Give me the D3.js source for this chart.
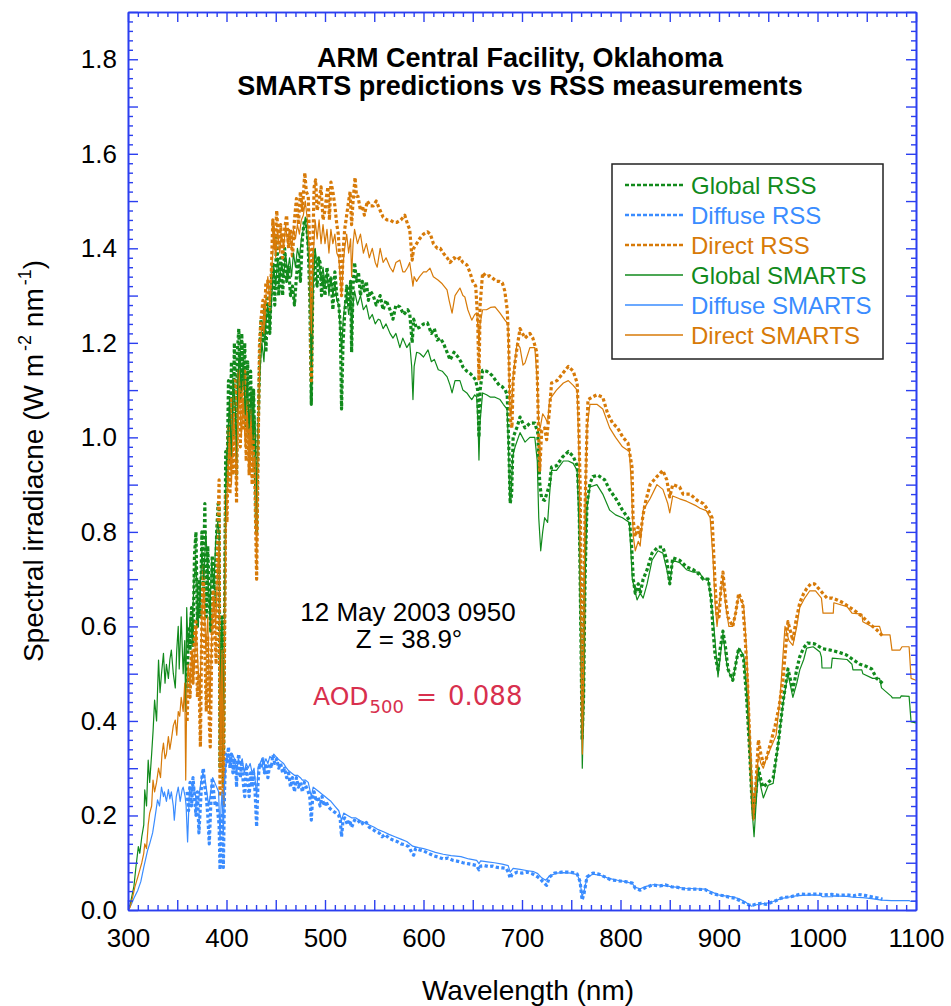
<!DOCTYPE html>
<html>
<head>
<meta charset="utf-8">
<script src="https://cdn.jsdelivr.net/npm/d3@7"></script>
<style>
  body { margin: 0; background: #fff; }
  svg { display: block; font-family: "Liberation Sans", Arial, Helvetica, sans-serif; }
</style>
</head>
<body>
<svg id="chart" width="951" height="1006"></svg>
<script>
// ---- Spectral irradiance, W m-2 nm-1, as [wavelength nm, value] ----

// RSS measurements (360 - 1066 nm)
const globalRss = [
  [360,0.47],[361.5,0.60],[363,0.55],[364.5,0.64],[366,0.56],[367.5,0.75],[369,0.80],[370.5,0.60],[372,0.70],[373.5,0.62],
  [375,0.80],[376.5,0.68],[378,0.86],[379.5,0.62],[381,0.77],[382.5,0.66],[384,0.59],[385.5,0.75],[387,0.70],[388.5,0.64],
  [390,0.80],[391.5,0.86],[392.5,0.85],[393.4,0.30],[394.5,0.55],[395.5,0.62],[396.8,0.27],[398,0.62],[399.2,0.97],
  [400.5,0.90],[402,1.12],[403.5,0.95],[405,1.16],[406.5,1.00],[408,1.20],[409.5,1.05],[410.2,0.92],[411,1.18],[412.5,1.23],
  [414,1.08],[415.5,1.22],[417,1.10],[418.5,1.20],[420,1.02],[421.5,1.16],[423,1.00],[424.5,1.14],[426,0.98],[427.5,1.10],
  [429,0.95],[430.6,0.80],[432,1.00],[433.5,1.15],[435,1.25],[437,1.20],[438.5,1.28],[440,1.18],[442,1.30],[444,1.22],
  [445.5,1.33],[447,1.37],[449,1.28],[451,1.43],[453,1.30],[455,1.38],[457,1.30],[459,1.40],[461,1.33],[463,1.36],
  [465,1.30],[467,1.32],[469,1.28],[471,1.34],[473,1.38],[475,1.33],[477,1.42],[479,1.46],[481,1.46],[483,1.40],
  [484.5,1.30],[486.1,1.07],[487.5,1.30],[489,1.40],[490.5,1.34],[492,1.32],[493.5,1.38],[495,1.37],[496.5,1.30],[498,1.34],
  [500,1.30],[502,1.36],[504,1.32],[506,1.34],[508,1.27],[510,1.35],[512,1.30],[514,1.28],[515.5,1.24],[516.8,1.06],
  [518.3,1.20],[520,1.26],[522,1.32],[524,1.28],[526,1.33],[527,1.18],[528.5,1.32],[530,1.37],[532,1.33],[534,1.35],
  [536,1.30],[538,1.33],[540,1.31],[542,1.33],[544,1.29],[546,1.31],[549,1.30],[552,1.28],[556,1.30],[559,1.27],
  [562,1.29],[566,1.27],[569,1.25],[572,1.28],[576,1.276],[580,1.26],[584,1.27],[586,1.263],[588.5,1.20],[590,1.25],
  [593,1.23],[596,1.233],[600,1.24],[604,1.242],[608,1.22],[611,1.23],[614,1.206],[617,1.21],[620,1.2],[624,1.18],
  [627,1.164],[631,1.18],[635,1.17],[638,1.16],[640,1.149],[644,1.14],[647,1.136],[650,1.13],[653,1.121],[655,1.10],
  [656.3,1.0],[657.5,1.10],[660,1.142],[664,1.14],[667,1.136],[670,1.13],[673,1.121],[677,1.11],[680,1.107],[683,1.10],
  [685,1.09],[686.5,0.99],[688,0.86],[689.5,0.88],[691,1.0],[695,1.022],[698,1.043],[703,1.02],[708,1.03],[713,1.03],
  [716,1.01],[718,0.903],[720,0.87],[723,0.867],[725,0.88],[728,0.90],[730,0.937],[735,0.94],[741,0.958],[747,0.97],
  [752,0.96],[756,0.94],[758,0.86],[760,0.55],[761,0.36],[762.5,0.45],[764,0.70],[766,0.86],[769,0.903],[772,0.917],
  [777,0.92],[784,0.91],[789,0.889],[796,0.868],[802,0.846],[809,0.825],[811,0.78],[813,0.70],[815,0.67],[818,0.69],
  [820,0.67],[823,0.70],[827,0.72],[832,0.755],[838,0.768],[843,0.768],[847,0.74],[850,0.69],[853,0.745],[860,0.74],
  [867,0.726],[874,0.72],[880,0.71],[884,0.70],[889,0.70],[892,0.66],[894,0.59],[896,0.54],[899,0.508],[901,0.55],
  [904,0.59],[907,0.55],[909,0.51],[914,0.486],[917,0.52],[920,0.554],[925,0.53],[928,0.45],[931,0.34],[933,0.25],
  [935,0.197],[937,0.24],[940,0.30],[943,0.27],[945,0.26],[950,0.27],[955,0.28],[960,0.35],[965,0.44],[970,0.51],
  [975,0.465],[979,0.51],[982,0.536],[986,0.555],[990,0.565],[997,0.563],[1005,0.553],[1013,0.55],[1022,0.545],[1029,0.54],
  [1036,0.53],[1043,0.52],[1050,0.515],[1055,0.51],[1060,0.49],[1066,0.48]
];

const diffuseRss = [
  [360,0.25],[361.5,0.21],[363,0.27],[364.5,0.22],[366,0.28],[367.5,0.24],[369,0.20],[370.5,0.25],[372,0.163],[373.5,0.22],
  [375,0.28],[376.5,0.30],[378,0.26],[379.5,0.24],[381,0.20],[382.5,0.14],[384,0.22],[385.5,0.28],[387,0.25],[388.5,0.22],
  [390,0.23],[391.5,0.20],[392.5,0.18],[393.4,0.085],[394.5,0.15],[395.5,0.20],[396.8,0.09],[398,0.25],[399.2,0.33],
  [400.5,0.31],[402,0.345],[403.5,0.30],[405,0.33],[406.5,0.29],[408,0.32],[409.5,0.30],[410.2,0.26],[411,0.31],[412.5,0.33],
  [414,0.28],[415.5,0.31],[417,0.27],[418.5,0.24],[420,0.30],[421.5,0.28],[423,0.24],[424.5,0.29],[426,0.26],[427.5,0.29],
  [429,0.25],[430.6,0.176],[432,0.27],[433.5,0.31],[435,0.30],[437,0.32],[438.5,0.29],[440,0.31],[442,0.28],[444,0.31],
  [445.5,0.30],[447,0.328],[449,0.31],[451,0.32],[453,0.30],[455,0.31],[457,0.29],[459,0.30],[461,0.28],[463,0.29],
  [465,0.26],[467,0.28],[469,0.25],[471,0.28],[473,0.26],[475,0.27],[477,0.25],[479,0.27],[481,0.26],[483,0.25],
  [484.5,0.24],[486.1,0.19],[487.5,0.24],[489,0.25],[491,0.23],[493,0.24],[495,0.22],[497,0.24],[499,0.22],[501,0.23],
  [503,0.22],[505,0.215],[508,0.21],[511,0.205],[514,0.20],[515.5,0.19],[516.8,0.155],[518.3,0.19],[520,0.195],[523,0.18],
  [525,0.19],[527,0.175],[530,0.19],[533,0.185],[536,0.19],[539,0.18],[542,0.185],[545,0.175],[549,0.17],[552,0.165],
  [555,0.163],[558,0.155],[561,0.16],[565,0.152],[569,0.148],[573,0.145],[577,0.14],[581,0.138],[585,0.134],[588.5,0.12],
  [590,0.116],[592,0.13],[596,0.127],[600,0.125],[605,0.12],[610,0.115],[615,0.112],[620,0.108],[625,0.11],[630,0.105],
  [635,0.103],[640,0.10],[645,0.098],[650,0.096],[654,0.094],[656.3,0.085],[658,0.093],[662,0.094],[666,0.092],[670,0.093],
  [675,0.09],[680,0.089],[684,0.088],[686.5,0.078],[688,0.067],[690,0.075],[695,0.08],[700,0.078],[705,0.08],[711,0.076],
  [716,0.07],[719,0.065],[721,0.06],[725,0.052],[728,0.07],[733,0.078],[740,0.08],[747,0.08],[752,0.079],[756,0.076],
  [759,0.06],[761,0.021],[763,0.035],[766,0.07],[772,0.078],[778,0.076],[784,0.07],[790,0.064],[797,0.062],[805,0.06],
  [812,0.057],[815,0.046],[820,0.042],[824,0.046],[832,0.053],[840,0.051],[846,0.053],[852,0.049],[858,0.048],[863,0.045],
  [870,0.044],[878,0.044],[886,0.043],[893,0.035],[899,0.032],[905,0.03],[911,0.027],[916,0.025],[921,0.02],[926,0.015],
  [930,0.011],[933,0.009],[937,0.012],[943,0.014],[948,0.012],[953,0.016],[958,0.02],[963,0.025],[968,0.027],[973,0.028],
  [978,0.031],[983,0.034],[990,0.033],[1000,0.034],[1007,0.032],[1014,0.033],[1022,0.031],[1030,0.032],[1037,0.03],[1041,0.033],
  [1048,0.031],[1055,0.028],[1060,0.026],[1066,0.023]
];

const directRss = [
  [360,0.40],[361.5,0.50],[363,0.45],[364.5,0.55],[366,0.48],[367.5,0.58],[369,0.61],[370.5,0.45],[372,0.50],[373.5,0.345],
  [375,0.62],[376.5,0.726],[378,0.55],[379.5,0.42],[381,0.58],[382.5,0.40],[383.5,0.345],[385,0.55],[386.5,0.677],[388,0.60],
  [389.5,0.52],[391,0.78],[392.5,0.91],[393.4,0.24],[394.5,0.45],[395.5,0.52],[396.8,0.22],[398,0.55],[399.2,0.88],
  [400.5,0.82],[402,1.02],[403.5,0.88],[405,1.08],[406.5,0.92],[408,1.12],[409.5,0.98],[410.2,0.86],[411,1.10],[412.5,1.14],
  [414,0.98],[415.5,1.12],[417,1.02],[418.5,1.14],[420,0.95],[421.5,1.08],[423,0.92],[424.5,1.06],[426,0.90],[427.5,1.02],
  [429,0.88],[430.6,0.70],[432,0.95],[433.5,1.20],[435,1.25],[437,1.29],[438.5,1.24],[440,1.33],[442,1.33],[444,1.27],
  [445.5,1.35],[447,1.46],[449,1.40],[451,1.48],[453,1.40],[455,1.45],[457,1.38],[459,1.44],[461,1.47],[463,1.40],
  [465,1.44],[467,1.38],[469,1.46],[471,1.505],[473,1.45],[475,1.52],[477,1.48],[479.5,1.56],[481,1.52],[483,1.51],
  [484.5,1.40],[486.1,1.12],[487.5,1.40],[489,1.53],[490.5,1.545],[492,1.48],[494,1.50],[496,1.53],[498,1.46],[500,1.48],
  [501.5,1.51],[503,1.53],[504.5,1.46],[506,1.54],[508,1.52],[510,1.49],[512,1.45],[513.5,1.43],[515,1.375],[516.8,1.30],
  [518.5,1.40],[520,1.44],[522,1.47],[524,1.50],[525.5,1.52],[527,1.45],[528.5,1.50],[530.5,1.55],[532,1.51],[533.5,1.51],
  [536,1.48],[538,1.49],[540,1.47],[543,1.50],[546,1.49],[549,1.49],[552,1.50],[556,1.48],[559,1.466],[563,1.46],
  [566,1.46],[570,1.455],[573,1.455],[577,1.46],[581,1.47],[584,1.45],[586,1.44],[588.5,1.375],[590,1.40],[593,1.41],
  [596,1.42],[600,1.43],[604,1.435],[607,1.43],[610,1.41],[614,1.40],[617,1.40],[620,1.39],[624,1.38],[627,1.37],
  [631,1.38],[634,1.375],[637,1.38],[640,1.37],[644,1.365],[647,1.35],[650,1.33],[653,1.32],[655,1.25],[656.3,1.12],
  [657.5,1.28],[660,1.348],[664,1.34],[667,1.342],[670,1.337],[674,1.33],[677,1.33],[680,1.327],[682.5,1.31],[685,1.27],
  [686.5,1.20],[688,1.04],[689.8,1.02],[691,1.12],[693,1.16],[695,1.19],[698,1.23],[703,1.21],[708,1.22],[711,1.21],
  [715,1.18],[716.5,1.04],[718,0.93],[720,1.015],[723,1.02],[725,0.995],[728,1.06],[730,1.115],[735.5,1.12],[741.6,1.136],
  [747,1.15],[752,1.14],[756,1.115],[757.5,1.04],[759,0.90],[760.5,0.60],[761.3,0.38],[762.5,0.55],[764,0.85],[766,1.02],
  [767,1.08],[771,1.085],[776,1.09],[782,1.085],[787,1.05],[792,1.03],[797,1.02],[802.5,1.0],[807.6,0.988],[811.7,0.937],
  [812.7,0.83],[814.7,0.79],[817.8,0.81],[820,0.79],[822.5,0.83],[825,0.86],[830,0.90],[837,0.917],[843,0.93],[847,0.91],
  [850,0.874],[853,0.90],[860,0.895],[863.5,0.88],[870.6,0.88],[877.7,0.867],[884,0.86],[889,0.846],[893,0.83],[894.5,0.76],
  [896,0.69],[898,0.62],[900,0.62],[902,0.68],[904,0.715],[906.5,0.66],[909,0.62],[914,0.60],[917,0.63],[920,0.67],
  [924,0.65],[926.5,0.58],[929,0.48],[931,0.37],[933,0.27],[935,0.19],[937,0.25],[940,0.36],[942.5,0.33],[945,0.31],
  [948,0.32],[952,0.35],[957,0.39],[961,0.43],[965,0.49],[970,0.61],[975,0.57],[978,0.61],[982,0.65],[986,0.67],
  [989,0.68],[993,0.69],[997,0.69],[1002.5,0.677],[1009.6,0.66],[1015,0.66],[1020,0.656],[1026,0.65],[1033,0.64],[1040,0.63],
  [1046,0.62],[1053,0.605],[1060,0.593],[1066,0.58]
];

// SMARTS model predictions (300 - 1100 nm)
const globalSmarts = [
  [300,0],[302,0.01],[304,0.03],[306,0.05],[308,0.09],[310.5,0.134],[312,0.12],[314,0.155],[316,0.18],[317,0.254],
  [318.8,0.22],[320.5,0.317],[322,0.27],[324,0.33],[325.5,0.38],[327,0.444],[329,0.40],[331,0.529],[332.5,0.46],[334,0.50],
  [336,0.543],[337.6,0.48],[339,0.52],[341,0.49],[342.5,0.53],[344,0.55],[346,0.50],[348,0.47],[349.5,0.55],[351,0.60],
  [352,0.51],[354,0.62],[356,0.50],[357.6,0.57],[358.6,0.42],[359.6,0.64],[361,0.55],[363,0.62],[365,0.58],[367,0.70],
  [369,0.74],[371,0.62],[373,0.66],[375,0.76],[377,0.70],[379,0.80],[381,0.72],[383,0.62],[385,0.74],[387,0.68],
  [389,0.78],[391,0.82],[392.5,0.80],[393.4,0.36],[394.5,0.58],[395.5,0.62],[396.8,0.33],[398,0.65],[399.5,0.92],[401,0.98],
  [403,1.08],[405,0.96],[407,1.12],[409,1.06],[410.2,0.95],[411.5,1.12],[413,1.18],[415,1.10],[417,1.16],[419,1.05],
  [421,1.12],[423,1.02],[425,1.10],[427,1.00],[429,1.04],[430.6,0.82],[432,1.02],[434,1.14],[436,1.20],[438,1.16],
  [440,1.24],[442,1.28],[444,1.22],[446,1.30],[448,1.36],[450,1.32],[452,1.38],[454,1.33],[456,1.37],[458,1.34],
  [460,1.39],[462,1.35],[464,1.38],[466,1.34],[468,1.39],[470,1.36],[472,1.40],[474,1.38],[476,1.42],[478,1.44],
  [480,1.466],[482,1.42],[484,1.36],[486.1,1.15],[488,1.32],[490,1.40],[492,1.36],[494,1.38],[496,1.33],[498,1.36],
  [500,1.32],[502,1.35],[504,1.30],[506,1.34],[508,1.30],[510,1.33],[512,1.29],[514,1.28],[516.8,1.18],[518.5,1.25],
  [520,1.28],[522,1.30],[524,1.26],[526,1.29],[527,1.21],[528.5,1.28],[530,1.31],[533,1.28],[536,1.30],[539,1.27],
  [542,1.28],[545,1.25],[548,1.26],[551,1.24],[554,1.25],[556,1.248],[559,1.23],[562,1.24],[566,1.22],[569,1.21],
  [572,1.22],[576,1.19],[579,1.21],[583,1.19],[586,1.20],[588,1.15],[589.3,1.08],[590.5,1.15],[593,1.18],[596,1.178],
  [600,1.17],[604.6,1.185],[608,1.16],[611,1.165],[615,1.143],[619,1.14],[624,1.128],[627,1.11],[629,1.094],[632,1.12],
  [637,1.12],[640,1.10],[644,1.094],[647,1.085],[649,1.08],[652,1.09],[654,1.085],[655.5,1.02],[656.3,0.952],[657.3,1.03],
  [660,1.094],[664,1.09],[668,1.085],[672.6,1.085],[677.7,1.08],[681,1.07],[684.8,1.06],[686.3,0.98],[687.5,0.87],[689,0.88],
  [690.5,0.96],[693,0.98],[698,1.01],[703,0.99],[708,1.0],[713,1.0],[715.5,0.95],[717,0.83],[719,0.76],[721,0.80],
  [723,0.83],[726,0.82],[728,0.88],[730,0.93],[735,0.93],[742,0.95],[747,0.95],[752,0.945],[756,0.93],[758,0.80],
  [760,0.50],[761.2,0.30],[762.5,0.42],[764,0.70],[766,0.85],[769,0.895],[776,0.90],[782,0.88],[789,0.846],[795,0.836],
  [802,0.83],[809,0.82],[812,0.70],[816.8,0.656],[820,0.67],[823,0.66],[827,0.69],[832,0.74],[838,0.76],[843,0.755],
  [847,0.72],[850,0.69],[853,0.74],[860,0.735],[867,0.72],[874,0.715],[880,0.715],[884,0.70],[889,0.70],[894,0.62],
  [899,0.493],[901.5,0.54],[904,0.586],[906.5,0.54],[909,0.508],[914,0.486],[917,0.52],[920,0.554],[925,0.54],[928,0.46],
  [931.5,0.34],[934,0.20],[935.6,0.155],[937.5,0.22],[940,0.296],[942.5,0.26],[945,0.237],[950,0.264],[955,0.268],[960,0.35],
  [965,0.437],[970,0.50],[975,0.45],[979,0.48],[982,0.508],[986,0.53],[989,0.554],[995.6,0.557],[1002.5,0.546],[1004,0.535],
  [1004.6,0.512],[1014,0.512],[1015,0.533],[1030,0.53],[1035,0.52],[1036,0.508],[1045,0.508],[1046,0.50],[1056,0.49],[1063,0.49],
  [1065,0.47],[1075,0.452],[1076,0.449],[1084,0.449],[1085,0.453],[1093,0.452],[1095,0.398],[1100,0.396]
];

const diffuseSmarts = [
  [300,0],[303,0.01],[306,0.025],[310,0.042],[313,0.06],[316,0.09],[320,0.127],[322,0.14],[325,0.163],[327,0.19],
  [330,0.233],[332,0.22],[334,0.26],[336,0.24],[337,0.25],[339,0.23],[341,0.255],[342.5,0.235],[344,0.25],[346,0.22],
  [347,0.19],[349,0.24],[351,0.26],[353,0.23],[355,0.255],[356,0.26],[358,0.24],[359,0.22],[360.5,0.144],[362.5,0.26],
  [364,0.24],[366,0.27],[368,0.25],[370,0.22],[372,0.24],[374,0.27],[376,0.29],[378,0.28],[380,0.25],[382,0.22],
  [384,0.25],[386,0.28],[388,0.27],[390,0.26],[392,0.25],[393.4,0.15],[394.5,0.22],[395.5,0.25],[396.8,0.16],[398,0.27],
  [400,0.32],[402,0.33],[404,0.31],[406,0.33],[408,0.32],[410.2,0.29],[412,0.32],[414,0.31],[416,0.32],[418,0.29],
  [420,0.31],[422,0.30],[424,0.31],[426,0.29],[428,0.30],[430.6,0.24],[432,0.30],[434,0.31],[436,0.32],[438,0.31],
  [440,0.32],[442,0.31],[444,0.325],[446,0.32],[448,0.33],[450,0.325],[452,0.32],[455,0.315],[458,0.31],[461,0.30],
  [463,0.295],[466,0.29],[469,0.285],[472,0.285],[475,0.28],[477,0.275],[480,0.275],[483,0.27],[486.1,0.24],[488,0.26],
  [491,0.255],[494,0.25],[497,0.245],[500,0.24],[503,0.235],[506,0.23],[510,0.22],[514,0.21],[516.8,0.19],[519,0.205],
  [523,0.20],[527,0.195],[531,0.195],[535,0.19],[540,0.185],[545,0.18],[550,0.175],[554,0.17],[560,0.165],[565,0.16],
  [571,0.155],[577,0.15],[583,0.145],[589,0.135],[595,0.132],[600,0.13],[605,0.127],[612,0.122],[620,0.118],[628,0.115],
  [638,0.113],[646,0.108],[654,0.105],[656.3,0.098],[658,0.104],[665,0.102],[672,0.1],[680,0.097],[686,0.094],[688,0.08],
  [691,0.088],[698,0.086],[706,0.083],[712,0.081],[716,0.077],[720,0.068],[724,0.063],[728,0.072],[735,0.078],[742,0.079],
  [750,0.078],[756,0.075],[759,0.06],[761,0.028],[763,0.04],[766,0.068],[772,0.076],[780,0.073],[788,0.067],[797,0.063],
  [805,0.06],[812,0.056],[815,0.048],[820,0.045],[826,0.05],[834,0.054],[842,0.052],[850,0.05],[858,0.048],[866,0.046],
  [876,0.045],[886,0.044],[893,0.038],[899,0.032],[906,0.03],[913,0.028],[920,0.024],[926,0.018],[930,0.012],[933,0.008],
  [936,0.01],[942,0.013],[948,0.014],[955,0.018],[963,0.024],[970,0.027],[978,0.03],[985,0.031],[995,0.032],[1003,0.031],
  [1005,0.028],[1015,0.028],[1016,0.03],[1030,0.029],[1036,0.027],[1046,0.026],[1055,0.024],[1065,0.021],[1075,0.02],[1085,0.02],
  [1093,0.02],[1095,0.018],[1100,0.018]
];

const directSmarts = [
  [300,0],[302,0.005],[305,0.03],[307,0.049],[310,0.07],[312,0.085],[314,0.10],[316,0.12],[317,0.14],[318.8,0.13],
  [320.5,0.18],[322,0.205],[324,0.22],[325.4,0.275],[327,0.25],[329,0.27],[331,0.30],[333,0.28],[334.5,0.33],[336,0.353],
  [337.6,0.32],[339,0.33],[341,0.367],[342.5,0.34],[344,0.36],[346,0.39],[348,0.402],[349.5,0.37],[351,0.42],[352.5,0.41],
  [354,0.45],[356,0.42],[357.6,0.48],[358.6,0.275],[359.6,0.45],[361,0.52],[363,0.48],[365,0.55],[367,0.50],[369,0.60],
  [371,0.52],[373,0.45],[375,0.62],[377,0.68],[379,0.55],[381,0.62],[383,0.42],[385,0.58],[387,0.66],[389,0.60],
  [391,0.72],[392.5,0.78],[393.4,0.30],[394.5,0.48],[395.5,0.55],[396.8,0.27],[398,0.58],[399.5,0.82],[401,0.90],[403,1.00],
  [405,0.90],[407,1.05],[409,0.98],[410.2,0.88],[411.5,1.05],[413,1.10],[415,1.00],[417,1.08],[419,0.98],[421,1.05],
  [423,0.94],[425,1.02],[427,0.93],[429,0.96],[430.6,0.72],[432,0.98],[434,1.18],[436,1.24],[438,1.22],[440,1.30],
  [442,1.34],[444,1.28],[446,1.36],[448,1.42],[450,1.38],[452,1.44],[454,1.39],[456,1.43],[458,1.40],[460,1.45],
  [462,1.41],[464,1.44],[466,1.40],[468,1.44],[470,1.42],[472,1.45],[474,1.43],[476,1.46],[478,1.47],[480,1.50],
  [482,1.46],[484,1.40],[486.1,1.22],[488,1.38],[490,1.46],[492,1.42],[494,1.46],[496,1.41],[498,1.45],[500,1.41],
  [502,1.44],[504,1.39],[506,1.44],[508,1.41],[510,1.43],[512,1.39],[514,1.38],[516.8,1.30],[518.5,1.37],[520,1.40],
  [522,1.43],[524,1.39],[526,1.42],[527,1.34],[528.5,1.41],[530,1.44],[533,1.41],[536,1.43],[539,1.39],[542,1.41],
  [545,1.38],[548,1.40],[551,1.37],[553,1.36],[556,1.40],[559,1.37],[562,1.38],[566,1.36],[569,1.35],[572,1.37],
  [576,1.375],[579,1.35],[581,1.35],[584,1.36],[586,1.37],[588,1.34],[589.3,1.32],[590.5,1.34],[593,1.33],[596,1.34],
  [600,1.35],[603,1.35],[606.6,1.358],[610,1.34],[614.7,1.333],[619,1.325],[623.9,1.312],[626,1.29],[629,1.263],[632,1.30],
  [637,1.316],[640,1.30],[642,1.297],[645,1.27],[649,1.248],[652,1.26],[654,1.263],[655.5,1.23],[656.3,1.20],[657.5,1.24],
  [660,1.27],[664,1.27],[668,1.275],[672.6,1.276],[677.7,1.263],[682.7,1.248],[685.8,1.24],[687,1.12],[688,1.05],[689.5,1.06],
  [691,1.13],[695,1.2],[698,1.19],[701,1.153],[703,1.157],[708,1.19],[713,1.19],[715.5,1.12],[717,1.03],[718.5,1.02],
  [721,1.05],[724,1.04],[726,1.03],[728,1.08],[735,1.10],[742,1.115],[747,1.12],[752,1.11],[756,1.10],[758,0.95],
  [760,0.55],[761.3,0.33],[762.5,0.50],[764,0.85],[766,1.02],[769,1.07],[776,1.07],[782,1.06],[789,1.02],[795,1.0],
  [802,0.98],[809,0.97],[811,0.90],[813,0.79],[815,0.76],[818,0.78],[820,0.77],[823,0.846],[830,0.87],[837,0.90],
  [843,0.89],[848,0.86],[850,0.84],[853,0.876],[860,0.87],[867,0.865],[877,0.855],[880.7,0.85],[887,0.845],[891,0.83],
  [894,0.74],[896,0.65],[898,0.60],[901,0.66],[904,0.70],[907,0.64],[910,0.60],[914,0.60],[917,0.63],[920,0.665],
  [925,0.645],[928,0.55],[930,0.45],[932.5,0.30],[935,0.19],[937.5,0.26],[940,0.33],[942.5,0.31],[945,0.30],[948,0.32],
  [952,0.34],[958,0.37],[962,0.45],[967,0.60],[971,0.57],[975,0.56],[979,0.60],[982,0.64],[987,0.66],[992,0.675],
  [998,0.675],[1004,0.66],[1005.6,0.628],[1016,0.628],[1016.6,0.65],[1030,0.642],[1035,0.628],[1045,0.626],[1046,0.61],[1055,0.60],
  [1063,0.60],[1065.5,0.582],[1073.6,0.582],[1075.6,0.55],[1083.8,0.55],[1085.8,0.557],[1093,0.557],[1095,0.49],[1100,0.486]
];

// Axis tick labels
const xTickLabels = [300, 400, 500, 600, 700, 800, 900, 1000, 1100];
const yTickLabels = [0.0, 0.2, 0.4, 0.6, 0.8, 1.0, 1.2, 1.4, 1.6, 1.8];

// Legend entries (also the drawing order of the lines)
const seriesNames = ["Global RSS", "Diffuse RSS", "Direct RSS", "Global SMARTS", "Diffuse SMARTS", "Direct SMARTS"];

// ---- Styles ----
const GREEN = "#118a1c", BLUE = "#3a8cff", ORANGE = "#d77a08";
const AXIS = "#2b3ff0";
const SANS = "'Liberation Sans', Arial, Helvetica, sans-serif";
const styles = {
  "Global RSS":     { color: GREEN,  dotted: true },
  "Diffuse RSS":    { color: BLUE,   dotted: true },
  "Direct RSS":     { color: ORANGE, dotted: true },
  "Global SMARTS":  { color: GREEN,  dotted: false },
  "Diffuse SMARTS": { color: BLUE,   dotted: false },
  "Direct SMARTS":  { color: ORANGE, dotted: false }
};
const seriesData = {
  "Global RSS": globalRss, "Diffuse RSS": diffuseRss, "Direct RSS": directRss,
  "Global SMARTS": globalSmarts, "Diffuse SMARTS": diffuseSmarts, "Direct SMARTS": directSmarts
};

// ---- Layout ----
const plotL = 128, plotR = 916, plotT = 12, plotB = 910;
const x = d3.scaleLinear().domain([300, 1100]).range([plotL, plotR]);
const y = d3.scaleLinear().domain([0, 1.9]).range([plotB, plotT]);

const svg = d3.select("#chart");

svg.append("defs").append("clipPath").attr("id", "plotClip")
  .append("rect").attr("x", plotL).attr("y", plotT).attr("width", plotR - plotL).attr("height", plotB - plotT);

// ---- Curves ----
const line = d3.line().x(d => x(d[0])).y(d => y(d[1]));
const curves = svg.append("g").attr("clip-path", "url(#plotClip)");

function styleLine(sel, st, legend) {
  sel.attr("fill", "none").attr("stroke", st.color).attr("stroke-linejoin", "round");
  if (st.dotted) {
    sel.attr("stroke-width", legend ? 2.6 : 3.2)
       .attr("stroke-dasharray", legend ? "4,2" : "3.3,2.4");
  } else {
    sel.attr("stroke-width", legend ? 1.3 : 1.2);
  }
  return sel;
}

// dotted measurements first, model lines on top
seriesNames.forEach(name => {
  curves.append("path").datum(seriesData[name]).attr("d", line).call(styleLine, styles[name], false);
});

// ---- Axes (ticks pointing inward on all four sides) ----
const xMajor = d3.range(300, 1101, 50);
const xMinor = d3.range(300, 1101, 10).filter(v => v % 50 !== 0);
const yMajor = d3.range(0, 20).map(i => i / 10);
const yMinor = d3.range(0, 96).filter(i => i % 5 !== 0).map(i => i / 50);

const isXLabel = v => xTickLabels.includes(v);
const isYLabel = v => yTickLabels.some(t => Math.abs(t - v) < 1e-9);

function styleAxis(g) {
  g.attr("font-family", SANS).attr("font-size", 26);
  g.selectAll(".domain").attr("stroke", AXIS).attr("stroke-width", 1.6);
  g.selectAll(".tick line").attr("stroke", AXIS).attr("stroke-width", 1.4);
  g.selectAll(".tick text").attr("fill", "#000");
}

// bottom
svg.append("g").attr("transform", `translate(0,${plotB})`)
  .call(d3.axisBottom(x).tickValues(xMinor).tickSize(-5).tickSizeOuter(0).tickFormat(""))
  .call(styleAxis);
svg.append("g").attr("transform", `translate(0,${plotB})`)
  .call(d3.axisBottom(x).tickValues(xMajor).tickSize(-10).tickSizeOuter(0).tickPadding(19)
        .tickFormat(v => isXLabel(v) ? String(v) : ""))
  .call(styleAxis);
// top
svg.append("g").attr("transform", `translate(0,${plotT})`)
  .call(d3.axisTop(x).tickValues(xMinor).tickSize(-5).tickSizeOuter(0).tickFormat(""))
  .call(styleAxis);
svg.append("g").attr("transform", `translate(0,${plotT})`)
  .call(d3.axisTop(x).tickValues(xMajor).tickSize(-10).tickSizeOuter(0).tickFormat(""))
  .call(styleAxis);
// left
svg.append("g").attr("transform", `translate(${plotL},0)`)
  .call(d3.axisLeft(y).tickValues(yMinor).tickSize(-5).tickSizeOuter(0).tickFormat(""))
  .call(styleAxis);
svg.append("g").attr("transform", `translate(${plotL},0)`)
  .call(d3.axisLeft(y).tickValues(yMajor).tickSize(-10).tickSizeOuter(0).tickPadding(11)
        .tickFormat(v => isYLabel(v) ? d3.format(".1f")(v) : ""))
  .call(styleAxis);
// right
svg.append("g").attr("transform", `translate(${plotR},0)`)
  .call(d3.axisRight(y).tickValues(yMinor).tickSize(-5).tickSizeOuter(0).tickFormat(""))
  .call(styleAxis);
svg.append("g").attr("transform", `translate(${plotR},0)`)
  .call(d3.axisRight(y).tickValues(yMajor).tickSize(-10).tickSizeOuter(0).tickFormat(""))
  .call(styleAxis);

// ---- Axis titles ----
svg.append("text").attr("x", 528).attr("y", 1000).attr("text-anchor", "middle")
  .attr("font-size", 28).attr("fill", "#000").text("Wavelength (nm)");

const yTitle = svg.append("text")
  .attr("transform", `translate(43,461) rotate(-90)`)
  .attr("text-anchor", "middle").attr("font-size", 28).attr("fill", "#000");
yTitle.append("tspan").text("Spectral irradiacne (W m");
yTitle.append("tspan").attr("dx", 3).attr("dy", -12).attr("font-size", 18).text("-2");
yTitle.append("tspan").attr("dy", 12).text(" nm");
yTitle.append("tspan").attr("dx", 3).attr("dy", -12).attr("font-size", 18).text("-1");
yTitle.append("tspan").attr("dy", 12).text(")");

// ---- Title ----
svg.append("text").attr("x", 520).attr("y", 67).attr("text-anchor", "middle")
  .attr("font-size", 27).attr("font-weight", "bold").attr("fill", "#000")
  .text("ARM Central Facility, Oklahoma");
svg.append("text").attr("x", 520).attr("y", 95).attr("text-anchor", "middle")
  .attr("font-size", 27).attr("font-weight", "bold").attr("fill", "#000")
  .text("SMARTS predictions vs RSS measurements");

// ---- Annotations ----
svg.append("text").attr("x", 408).attr("y", 621).attr("text-anchor", "middle")
  .attr("font-size", 26).attr("fill", "#000").text("12 May 2003 0950");
svg.append("text").attr("x", 409).attr("y", 648).attr("text-anchor", "middle")
  .attr("font-size", 26).attr("fill", "#000").text("Z = 38.9°");

const aod = svg.append("text").attr("x", 313).attr("y", 705)
  .style("font-family", "'DejaVu Sans', sans-serif").attr("font-size", 25).attr("fill", "#d8304e");
aod.append("tspan").text("AOD");
aod.append("tspan").attr("dx", 1).attr("dy", 8).attr("font-size", 18).text("500");
aod.append("tspan").attr("x", 416).attr("dy", -8).text("=");
aod.append("tspan").attr("x", 448).attr("font-size", 26).text("0.088");

// ---- Legend ----
const legend = svg.append("g");
legend.append("rect").attr("x", 612).attr("y", 164).attr("width", 271).attr("height", 195)
  .attr("fill", "#fff").attr("stroke", "#222").attr("stroke-width", 1.5);
seriesNames.forEach((name, i) => {
  const cy = 185 + i * 30;
  const st = styles[name];
  legend.append("path").datum([[625, cy], [683, cy]])
    .attr("d", d3.line()).call(styleLine, st, true);
  legend.append("text").attr("x", 691).attr("y", cy + 8.5)
    .attr("font-size", 24).attr("fill", st.color).text(name);
});
</script>
</body>
</html>
